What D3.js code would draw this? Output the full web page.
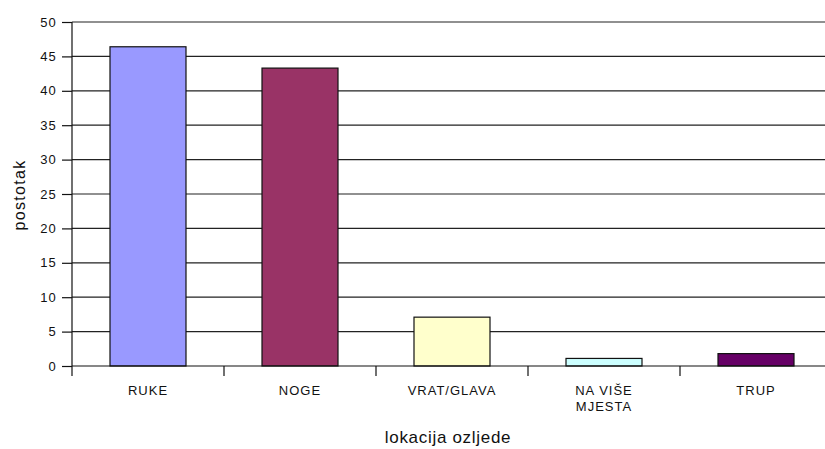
<!DOCTYPE html>
<html>
<head>
<meta charset="utf-8">
<script src="https://cdn.jsdelivr.net/npm/d3@7/dist/d3.min.js"></script>
<style>
  body { margin: 0; background: #fff; }
  text { font-family: "Liberation Sans", Arial, sans-serif; fill: #111; }
</style>
</head>
<body>
<svg id="chart" width="825" height="449"></svg>
<script>
var categories = ["RUKE", "NOGE", "VRAT/GLAVA", "NA VIŠE MJESTA", "TRUP"];
var labelLines = [["RUKE"], ["NOGE"], ["VRAT/GLAVA"], ["NA VIŠE", "MJESTA"], ["TRUP"]];
var values = [46.4, 43.3, 7.1, 1.1, 1.8];
var colors = ["#9999ff", "#993366", "#ffffcc", "#ccffff", "#660066"];
var yTicks = [0, 5, 10, 15, 20, 25, 30, 35, 40, 45, 50];

var svg = d3.select("#chart"),
    LEFT = 72, RIGHT = 832, TOP = 22, BOTTOM = 366;

var x = d3.scaleBand().domain(categories).range([LEFT, RIGHT])
    .paddingInner(0.5).paddingOuter(0.25);
var y = d3.scaleLinear().domain([0, 50]).range([BOTTOM, TOP]);

// gridlines
svg.append("g").selectAll("line").data(yTicks.slice(1)).enter().append("line")
    .attr("x1", LEFT).attr("x2", 825)
    .attr("y1", function(d) { return y(d); }).attr("y2", function(d) { return y(d); })
    .attr("stroke", "#222").attr("stroke-width", 1.2);

// bars
svg.append("g").selectAll("rect").data(values).enter().append("rect")
    .attr("x", function(d, i) { return x(categories[i]); })
    .attr("width", x.bandwidth())
    .attr("y", function(d) { return y(d); })
    .attr("height", function(d) { return y(0) - y(d); })
    .attr("fill", function(d, i) { return colors[i]; })
    .attr("stroke", "#111").attr("stroke-width", 1.2);

// y axis
var yAxis = d3.axisLeft(y).tickValues(yTicks).tickSize(10).tickPadding(5);
var ga = svg.append("g").attr("transform", "translate(" + LEFT + ",0)").call(yAxis);
ga.select(".domain").attr("d", "M0," + TOP + "V" + (BOTTOM + 10)).attr("stroke", "#111").attr("stroke-width", 1.2);
ga.selectAll(".tick line").attr("stroke", "#111").attr("stroke-width", 1.2);
ga.selectAll(".tick text").style("font-size", "13px").style("letter-spacing", "1.2px")
    .style("font-family", "Liberation Sans, Arial, sans-serif").attr("fill", "#111");

// x axis baseline and boundary ticks
svg.append("line").attr("x1", LEFT).attr("x2", 825).attr("y1", y(0)).attr("y2", y(0))
    .attr("stroke", "#111").attr("stroke-width", 1.2);
var step = x.step();
svg.append("g").selectAll("line").data(categories).enter().append("line")
    .attr("x1", function(d) { return x(d) + x.bandwidth() + step * 0.25; })
    .attr("x2", function(d) { return x(d) + x.bandwidth() + step * 0.25; })
    .attr("y1", y(0)).attr("y2", y(0) + 10)
    .attr("stroke", "#111").attr("stroke-width", 1.2);

// category labels
var lbl = svg.append("g").selectAll("text").data(labelLines).enter().append("text")
    .attr("x", function(d, i) { return x(categories[i]) + x.bandwidth() / 2; })
    .attr("y", 395)
    .attr("text-anchor", "middle")
    .style("font-size", "13px").style("letter-spacing", "1px");
lbl.selectAll("tspan").data(function(d) { return d; }).enter().append("tspan")
    .attr("x", function() { return d3.select(this.parentNode).attr("x"); })
    .attr("dy", function(d, i) { return i === 0 ? 0 : 16; })
    .text(function(d) { return d; });

// axis titles
svg.append("text").attr("x", 448).attr("y", 443).attr("text-anchor", "middle")
    .style("font-size", "17px").style("letter-spacing", "0.7px")
    .text("lokacija ozljede");
svg.append("text").attr("transform", "translate(25,195) rotate(-90)")
    .attr("text-anchor", "middle")
    .style("font-size", "16px").style("letter-spacing", "1.3px")
    .text("postotak");
</script>
</body>
</html>
